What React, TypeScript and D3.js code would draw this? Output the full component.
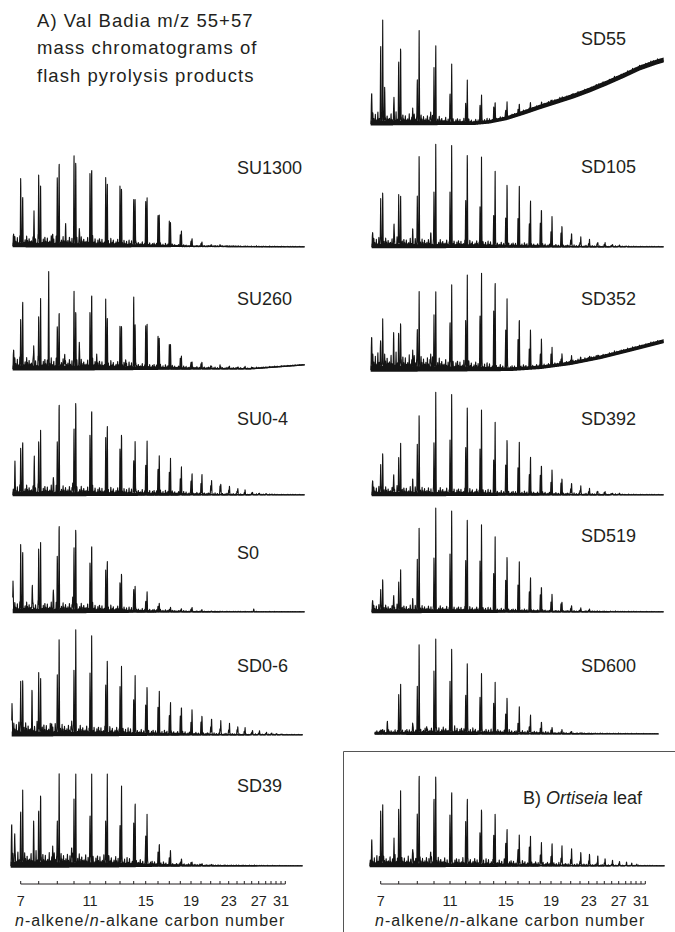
import * as d3 from 'd3';

// carbon numbers and their retention times (min) on the shared time axis
const carbonNumbers = [7, 8, 9, 10, 11, 12, 13, 14, 15, 16, 17, 18, 19, 20, 21, 22, 23, 24, 25, 26, 27, 28, 29, 30, 31, 32];
const retentionMin = [3.0, 4.8, 6.66, 8.33, 9.93, 11.5, 12.93, 14.3, 15.5, 16.73, 17.86, 18.96, 20.03, 21.03, 22.0, 22.93, 23.8, 24.63, 25.36, 26.1, 26.8, 27.5, 28.03, 28.53, 29.03, 29.46];
const tickLabels = [7, 11, 15, 19, 23, 27, 31];

const titleLines = ['A) Val Badia m/z 55+57', 'mass chromatograms of', 'flash pyrolysis products'];

// recurring small unresolved peaks along the baseline: [offset, relative height]
const minorPattern = [[0.2, 0.5], [0.7, 0.9], [0.1, 0.4], [0.5, 0.7], [0.9, 0.3], [0.3, 1.0], [0.6, 0.45], [0.0, 0.8], [0.8, 0.35], [0.4, 0.6], [0.95, 0.9], [0.15, 0.5], [0.65, 0.75], [0.35, 0.4]];

// relative intensities from C7 upward; extra = other compounds [rt, intensity]
// band = thickness of the noisy baseline, grass = height of the small peaks, drift = baseline rise
const su1300Alkene = [75, 79, 76, 99, 76, 63, 63, 52, 50, 34, 25, 13, 6, 3, 1.5, 1];
const su1300Alkane = [54, 55, 93, 91, 85, 69, 64, 51, 49, 33, 23, 16, 9, 4, 2, 1];
const su1300Extra = [[2.3, 12], [4.33, 31], [6.2, 13], [7.5, 18], [8.86, 17]];
const su1300Band = [[2.2, 4.5], [12, 4], [16, 2.5], [20, 1.4], [31.4, 1.1]];
const su1300Grass = [[2.2, 12], [10, 11], [14, 7], [17, 4], [20, 1.5], [31.4, 0.6]];
const su1300Drift = [[2.2, 0], [31.4, -1]];

const su260Alkene = [55, 58, 47, 85, 58, 64, 43, 80, 48, 36, 24, 12, 7, 5, 3, 2.5, 2, 1.5, 1.5, 1];
const su260Alkane = [74, 65, 63, 61, 82, 56, 47, 48, 44, 32, 23, 13, 8, 5, 3, 2.5, 2, 2, 1.5, 1];
const su260Extra = [[2.3, 20], [4.3, 22], [5.8, 95], [7.4, 16], [8.86, 26], [10.6, 12], [13.5, 10]];
const su260Band = [[2.2, 5], [12, 4.5], [18, 2.5], [23, 1.5], [31.4, 1.3]];
const su260Grass = [[2.2, 14], [10, 11], [15, 7], [19, 3.5], [23, 2], [31.4, 0.8]];
const su260Drift = [[2.2, 0], [26, 0], [31.4, 4]];

const su04Alkene = [52, 59, 59, 72, 62, 52, 47, 38, 33, 28, 22, 18, 15, 12, 9, 7, 5, 4, 2.5, 1.5, 1, 0.5, 0.3];
const su04Alkane = [58, 60, 102, 101, 94, 76, 67, 58, 54, 41, 35, 29, 24, 20, 15, 12, 8.5, 7, 4.5, 2.5, 2, 1.2, 0.8];
const su04Extra = [[2.43, 28], [4.36, 37], [6.26, 18], [8.2, 12]];
const su04Band = [[2.2, 4.5], [12, 3.5], [18, 2.2], [24, 1.3], [31.4, 1.1]];
const su04Grass = [[2.2, 12], [10, 10], [15, 7], [20, 3.5], [25, 1.4], [31.4, 0.6]];
const su04Drift = [[2.2, 0], [31.4, 0]];

const s0Alkene = [75, 70, 62, 70, 50, 37, 29, 25, 12, 6, 2.5, 2, 3, 1, 0.5];
const s0Alkane = [66, 65, 97, 90, 73, 56, 42, 28, 19, 9, 4, 3, 5, 1.5, 1];
const s0Extra = [[2.23, 29], [4.16, 29], [6.26, 23], [8.2, 15], [26.3, 3]];
const s0Band = [[2.2, 4.5], [12, 3.5], [16, 2.2], [20, 1.3], [31.4, 1.1]];
const s0Grass = [[2.2, 12], [10, 10], [14, 5.5], [18, 2], [22, 1], [31.4, 0.5]];
const s0Drift = [[2.2, 0], [31.4, 0]];

const sd06Alkene = [53, 59, 59, 72, 62, 52, 47, 38, 33, 28, 21, 17, 14, 11, 9, 7, 5.5, 4.5, 3.5, 2.5, 2, 1.5, 1, 0.6, 0.4];
const sd06Alkane = [59, 60, 102, 101, 94, 76, 67, 58, 54, 42, 36, 31, 25, 21, 18, 14, 11, 9, 7, 5, 4, 3, 2, 1.5, 1];
const sd06Extra = [[2.13, 29], [4.13, 38], [6.1, 12], [8.1, 14]];
const sd06Band = [[2.1, 5], [12, 4], [18, 2.2], [24, 1.3], [31.2, 1.1]];
const sd06Grass = [[2.1, 15], [10, 11], [15, 7], [20, 3.5], [25, 1.4], [31.2, 0.6]];
const sd06Drift = [[2.1, 0], [31.2, 0]];

const sd39Alkene = [60, 55, 50, 62, 55, 50, 45, 38, 30, 14, 9, 4, 2, 1.5, 1];
const sd39Alkane = [75, 80, 92, 100, 95, 92, 85, 70, 52, 23, 15, 6, 3, 2, 1];
const sd39Extra = [[2.1, 45], [2.4, 35], [4.3, 40], [6.2, 20], [8.1, 18]];
const sd39Band = [[2.0, 6], [12, 5], [17, 2.5], [22, 1.4], [31.2, 1.1]];
const sd39Grass = [[2.0, 16], [10, 14], [15, 8], [18, 3.5], [22, 1.4], [31.2, 0.5]];
const sd39Drift = [[2.0, 0], [31.2, 0]];

const sd55Alkene = [86, 64, 49, 53, 33, 23, 20, 12, 9, 6, 4, 2, 1.5, 1, 1];
const sd55Alkane = [103, 86, 94, 85, 62, 44, 30, 21, 17, 11, 7, 3, 2.5, 2, 1.5];
const sd55Extra = [[2.1, 33], [3.4, 28], [4.33, 28], [6.2, 16], [8.0, 12]];
const sd55Band = [[2.0, 5], [10, 3.5], [14, 3.5], [18, 4.5], [24, 5], [31.3, 5]];
const sd55Grass = [[2.0, 14], [8, 10], [12, 5.5], [16, 4], [31.3, 4.5]];
const sd55Drift = [[2.0, 0], [12.3, 0], [13.9, 1.5], [15.6, 5], [17.3, 10.5], [18.9, 16], [20.6, 21.5], [22.3, 27], [23.9, 33], [25.6, 40], [27.3, 47.5], [28.9, 55], [30.6, 61], [31.3, 63]];

const sd105Alkene = [48, 50, 50, 61, 55, 49, 39, 34, 32, 29, 25, 22, 17, 12, 8, 5, 3.5, 2.5, 2, 1.5, 1, 0.5];
const sd105Alkane = [59, 54, 97, 100, 99, 97, 90, 75, 70, 60, 51, 42, 31, 23, 15, 10, 7, 5, 4, 2.7, 1.7, 1];
const sd105Extra = [[2.2, 15], [4.33, 25], [6.2, 14], [8.0, 12]];
const sd105Band = [[2.1, 4.5], [12, 3.5], [18, 2.2], [24, 1.3], [31.3, 1.1]];
const sd105Grass = [[2.1, 11], [10, 8.5], [16, 5.5], [21, 2.8], [25, 1.4], [31.3, 0.6]];
const sd105Drift = [[2.1, 0], [31.3, 0]];

const sd352Alkene = [30, 32, 45, 50, 52, 55, 60, 55, 40, 30, 22, 15, 10, 6, 4, 2.5, 2, 1.5];
const sd352Alkane = [50, 52, 78, 85, 88, 95, 103, 98, 72, 55, 40, 28, 18, 11, 7, 4, 3, 2];
const sd352Extra = [[2.1, 35], [4.3, 30], [6.2, 20], [8.0, 16]];
const sd352Band = [[2.0, 6], [10, 5], [16, 3.5], [22, 3.5], [31.3, 4]];
const sd352Grass = [[2.0, 20], [8, 15], [12, 10], [16, 5.5], [20, 4], [31.3, 3.5]];
const sd352Drift = [[2.0, 0], [16, 0], [19, 2], [22, 6], [25, 12], [28, 19.5], [31.3, 28]];

const sd392Alkene = [30, 35, 50, 58, 55, 50, 45, 38, 33, 28, 22, 18, 14, 10, 7, 5, 3.5, 2.5, 2, 1.2, 1];
const sd392Alkane = [45, 55, 85, 100, 98, 92, 85, 72, 62, 52, 42, 33, 25, 18, 13, 9, 6, 4, 3, 2, 1.5];
const sd392Extra = [[2.2, 15], [4.3, 22], [6.2, 12]];
const sd392Band = [[2.1, 4.5], [12, 3.5], [18, 2.2], [24, 1.3], [31.3, 1.1]];
const sd392Grass = [[2.1, 10], [10, 8.5], [16, 5], [21, 2.8], [25, 1.4], [31.3, 0.6]];
const sd392Drift = [[2.1, 0], [31.3, 0]];

const sd519Alkene = [22, 28, 52, 60, 58, 55, 50, 42, 35, 28, 22, 16, 11, 7, 4, 2.5, 1.5];
const sd519Alkane = [35, 45, 90, 102, 100, 98, 88, 75, 62, 50, 38, 28, 18, 11, 7, 4, 2.5];
const sd519Extra = [[2.2, 12], [4.3, 18], [6.2, 10]];
const sd519Band = [[2.1, 4], [12, 3.5], [18, 2.2], [24, 1.3], [31.3, 1.1]];
const sd519Grass = [[2.1, 8.5], [10, 7], [16, 4.2], [20, 2], [24, 1.4], [31.3, 0.5]];
const sd519Drift = [[2.1, 0], [31.3, 0]];

const sd600Alkene = [3, 39, 46, 64, 51, 43, 35, 31, 22, 12, 8, 5, 3, 2, 1, 0.5];
const sd600Alkane = [5, 53, 97, 96, 90, 78, 63, 51, 39, 28, 21, 13, 7, 5, 2.3, 1];
const sd600Extra = [[3.67, 13], [6.2, 12], [7.6, 8]];
const sd600Band = [[2.4, 2.5], [10, 3.5], [16, 2.2], [22, 1.3], [30.8, 1.1]];
const sd600Grass = [[2.4, 4], [10, 8.5], [14, 5.5], [18, 3.5], [22, 1.4], [30.8, 0.5]];
const sd600Drift = [[2.4, 0], [30.8, 0]];

const ortiseiaAlkene = [60, 63, 55, 68, 53, 43, 37, 30, 22, 18, 14, 11, 9, 8, 6, 5, 4, 3, 2.5, 2, 1.5, 1, 0.8, 0.5];
const ortiseiaAlkane = [68, 76, 102, 98, 83, 74, 64, 53, 39, 33, 29, 25, 24, 22, 18, 15, 13, 10, 8, 6, 5, 3.3, 2.4, 1.5];
const ortiseiaExtra = [[2.1, 20], [4.33, 25], [6.2, 18], [8.0, 14]];
const ortiseiaBand = [[1.9, 4.5], [12, 3.5], [18, 2.2], [24, 1.3], [31.4, 1.1]];
const ortiseiaGrass = [[1.9, 12], [10, 10], [16, 7], [22, 2.8], [26, 1.4], [31.4, 0.5]];
const ortiseiaDrift = [[1.9, 0], [31.4, 0]];

const samples = [
  { name: 'SU1300', alkene: su1300Alkene, alkane: su1300Alkane, extra: su1300Extra, band: su1300Band, grass: su1300Grass, drift: su1300Drift },
  { name: 'SU260', alkene: su260Alkene, alkane: su260Alkane, extra: su260Extra, band: su260Band, grass: su260Grass, drift: su260Drift },
  { name: 'SU0-4', alkene: su04Alkene, alkane: su04Alkane, extra: su04Extra, band: su04Band, grass: su04Grass, drift: su04Drift },
  { name: 'S0', alkene: s0Alkene, alkane: s0Alkane, extra: s0Extra, band: s0Band, grass: s0Grass, drift: s0Drift },
  { name: 'SD0-6', alkene: sd06Alkene, alkane: sd06Alkane, extra: sd06Extra, band: sd06Band, grass: sd06Grass, drift: sd06Drift },
  { name: 'SD39', alkene: sd39Alkene, alkane: sd39Alkane, extra: sd39Extra, band: sd39Band, grass: sd39Grass, drift: sd39Drift },
  { name: 'SD55', alkene: sd55Alkene, alkane: sd55Alkane, extra: sd55Extra, band: sd55Band, grass: sd55Grass, drift: sd55Drift },
  { name: 'SD105', alkene: sd105Alkene, alkane: sd105Alkane, extra: sd105Extra, band: sd105Band, grass: sd105Grass, drift: sd105Drift },
  { name: 'SD352', alkene: sd352Alkene, alkane: sd352Alkane, extra: sd352Extra, band: sd352Band, grass: sd352Grass, drift: sd352Drift },
  { name: 'SD392', alkene: sd392Alkene, alkane: sd392Alkane, extra: sd392Extra, band: sd392Band, grass: sd392Grass, drift: sd392Drift },
  { name: 'SD519', alkene: sd519Alkene, alkane: sd519Alkane, extra: sd519Extra, band: sd519Band, grass: sd519Grass, drift: sd519Drift },
  { name: 'SD600', alkene: sd600Alkene, alkane: sd600Alkane, extra: sd600Extra, band: sd600Band, grass: sd600Grass, drift: sd600Drift },
  { name: 'Ortiseia', alkene: ortiseiaAlkene, alkane: ortiseiaAlkane, extra: ortiseiaExtra, band: ortiseiaBand, grass: ortiseiaGrass, drift: ortiseiaDrift },
];

// page layout: column, baseline y, label baseline y
const layout: Record<string, { col: number; base: number; labelY: number }> = {
  SU1300: { col: 0, base: 246, labelY: 174 },
  SU260: { col: 0, base: 369, labelY: 305 },
  'SU0-4': { col: 0, base: 495, labelY: 425 },
  S0: { col: 0, base: 612, labelY: 559 },
  'SD0-6': { col: 0, base: 735, labelY: 672 },
  SD39: { col: 0, base: 866, labelY: 792 },
  SD55: { col: 1, base: 124, labelY: 45 },
  SD105: { col: 1, base: 247, labelY: 173 },
  SD352: { col: 1, base: 370, labelY: 305 },
  SD392: { col: 1, base: 495, labelY: 425 },
  SD519: { col: 1, base: 612, labelY: 542 },
  SD600: { col: 1, base: 734, labelY: 672 },
  Ortiseia: { col: 1, base: 866, labelY: 804 },
};

const colShift = [0, 360];
const labelX = [237, 221];
const ink = '#231f20';
const trace = '#141414';
const font = '"Liberation Sans", Arial, Helvetica, sans-serif';

const x = d3.scaleLinear().domain([retentionMin[0], retentionMin[retentionMin.length - 1]]).range([20.7, 285.3]);
const y = d3.scaleLinear().domain([0, 100]).range([0, 100]);

function piecewise(pts: number[][]) {
  return d3.scaleLinear().domain(pts.map((d) => d[0])).range(pts.map((d) => d[1])).clamp(true);
}

function buildTrace(s: (typeof samples)[number], base: number) {
  const drift = piecewise(s.drift);
  const band = piecewise(s.band);
  const grass = piecewise(s.grass);
  const span = [s.band[0][0], s.band[s.band.length - 1][0]];
  const peaks: number[][] = [];
  s.alkene.forEach((h, i) => peaks.push([retentionMin[i], h, 0.05]));
  s.alkane.forEach((h, i) => peaks.push([retentionMin[i] + Math.max(0.08, 0.2 - 0.008 * i), h, 0.05]));
  s.extra.forEach(([rt, h]) => peaks.push([rt, h, 0.06]));
  // evenly spaced grass so the baseline looks jagged rather than smooth
  let k = 0;
  for (let rt = span[0] + 0.05; rt < span[1]; rt += 0.13, k++) {
    const [f, r] = minorPattern[k % minorPattern.length];
    const c = rt + f * 0.05;
    peaks.push([c, r * grass(c), 0.045]);
  }
  const line: [number, number][] = [];
  const bandPts: [number, number, number][] = [];
  const x0 = x(span[0]);
  const x1 = x(span[1]);
  for (let px = x0; px <= x1; px += 0.15) {
    const rt = x.invert(px);
    const b = drift(rt);
    let v = b;
    for (const [c, h, w] of peaks) {
      const d = Math.abs(rt - c);
      if (d < w) v += h * (1 - d / w);
    }
    line.push([px, base - y(v)]);
    const t = band(rt);
    bandPts.push([px, base - y(b) + t * 0.3, base - y(b + t * 0.7)]);
  }
  const path = d3.line()(line) ?? '';
  const area =
    d3
      .area<[number, number, number]>()
      .x((d) => d[0])
      .y0((d) => d[1])
      .y1((d) => d[2])(bandPts) ?? '';
  return { path, area };
}

function Axis({ shift }: { shift: number }) {
  const ay = 884;
  return (
    <g transform={`translate(${shift},0)`}>
      <line x1={x(retentionMin[0])} x2={x(retentionMin[retentionMin.length - 1])} y1={ay} y2={ay} stroke={ink} strokeWidth={1} />
      {carbonNumbers.map((c, i) => (
        <line key={c} x1={x(retentionMin[i])} x2={x(retentionMin[i])} y1={ay} y2={ay - 3} stroke={ink} strokeWidth={1} />
      ))}
      {tickLabels.map((c) => (
        <text key={c} x={x(retentionMin[carbonNumbers.indexOf(c)])} y={906} textAnchor="middle" fontSize={14.5} fill={ink} fontFamily={font}>
          {c}
        </text>
      ))}
      <text x={15} y={926} fontSize={16} letterSpacing={1} fill={ink} fontFamily={font}>
        <tspan fontStyle="italic">n</tspan>-alkene/<tspan fontStyle="italic">n</tspan>-alkane carbon number
      </text>
    </g>
  );
}

export default function App() {
  return (
    <div style={{ position: 'absolute', left: 0, top: 0 }}>
      <svg width={675} height={932} style={{ display: 'block', background: '#fff' }}>
        {titleLines.map((t, i) => (
          <text key={t} x={37} y={27 + i * 27.3} fontSize={18.5} letterSpacing={1.05} fill={ink} fontFamily={font}>
            {t}
          </text>
        ))}

        {samples.map((s) => {
          const l = layout[s.name];
          const { path, area } = buildTrace(s, l.base);
          return (
            <g key={s.name} transform={`translate(${colShift[l.col]},0)`}>
              <path d={area} fill={trace} />
              <path d={path} fill="none" stroke={trace} strokeWidth={1.1} strokeLinejoin="round" />
              {s.name === 'Ortiseia' ? (
                <text x={163} y={l.labelY} fontSize={18} fill={ink} fontFamily={font}>
                  B) <tspan fontStyle="italic">Ortiseia</tspan> leaf
                </text>
              ) : (
                <text x={labelX[l.col]} y={l.labelY} fontSize={18} fill={ink} fontFamily={font}>
                  {s.name}
                </text>
              )}
            </g>
          );
        })}

        <Axis shift={colShift[0]} />
        <Axis shift={colShift[1]} />

        <path d="M343.5,932 V751.5 H675" fill="none" stroke="#555" strokeWidth={1} />
      </svg>
    </div>
  );
}
